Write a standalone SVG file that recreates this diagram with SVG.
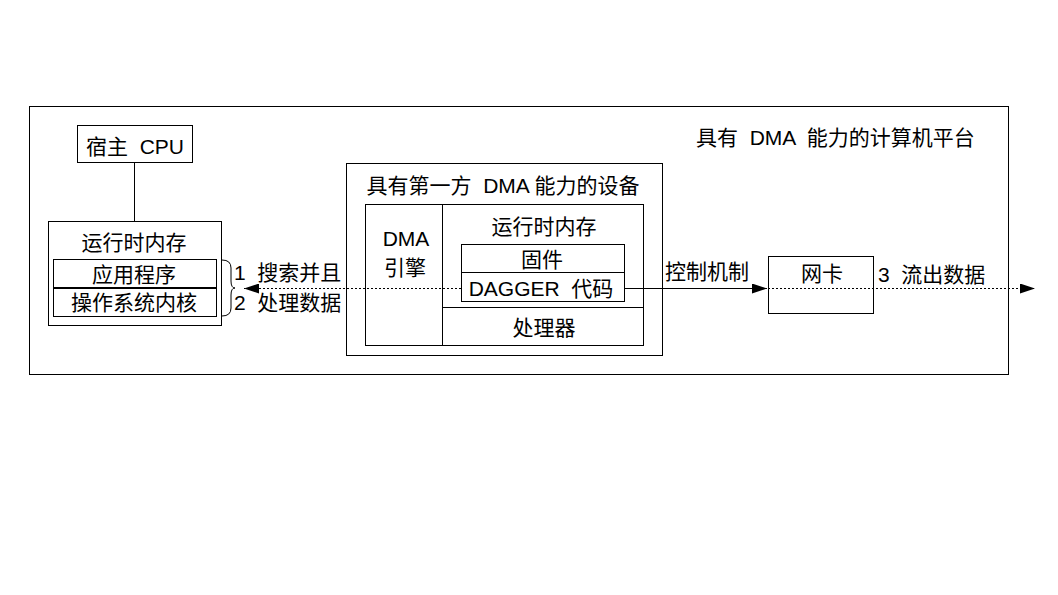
<svg xmlns="http://www.w3.org/2000/svg" width="1058" height="595" viewBox="0 0 1058 595">
<defs>
<style>
.b{fill:#fff;stroke:#000;stroke-width:1}
.n{fill:none;stroke:#000;stroke-width:1}
.d{fill:none;stroke:#000;stroke-width:1;stroke-dasharray:2,2}
text{font-family:"Liberation Sans","Noto Sans CJK SC",sans-serif;font-size:21px;fill:#000}
.m{text-anchor:middle}
</style>
<marker id="ah" viewBox="0 0 15 10" refX="15" refY="5" markerWidth="15" markerHeight="10" markerUnits="userSpaceOnUse" orient="auto">
<path d="M0,0 L15,5 L0,10 Z" fill="#000"/>
</marker>
</defs>
<rect width="1058" height="595" fill="#fff"/>
<g id="platform">
<rect class="b" x="29.5" y="106.5" width="979" height="268"/>
<text x="696" y="145" xml:space="preserve">具有  DMA  能力的计算机平台</text>
</g>
<g id="host-cpu">
<rect class="b" x="77.5" y="125.5" width="115" height="37"/>
<text x="135" y="154" class="m" xml:space="preserve">宿主  CPU</text>
</g>
<g id="host-memory">
<rect class="b" x="48.5" y="221.5" width="173" height="104"/>
<text x="134" y="250" class="m">运行时内存</text>
<rect class="b" x="53.5" y="259.5" width="163" height="28"/>
<text x="134" y="282" class="m">应用程序</text>
<rect class="b" x="53.5" y="288.5" width="163" height="28"/>
<line x1="53" y1="288" x2="217" y2="288" stroke="#000" stroke-width="2"/>
<text x="134" y="310" class="m">操作系统内核</text>
</g>
<g id="device">
<rect class="b" x="346.5" y="163.5" width="316" height="192"/>
<text x="503" y="193" class="m" xml:space="preserve">具有第一方  DMA 能力的设备</text>
<rect class="b" x="365.5" y="204.5" width="278" height="141"/>
<line class="n" x1="442.5" y1="204" x2="442.5" y2="345"/>
<line class="n" x1="442" y1="307.5" x2="643" y2="307.5"/>
</g>
<g id="dma-engine">
<text x="406" y="246" class="m">DMA</text>
<text x="405" y="275" class="m">引擎</text>
</g>
<g id="device-memory">
<text x="544" y="234" class="m">运行时内存</text>
</g>
<g id="firmware">
<rect class="b" x="461.5" y="244.5" width="163" height="28"/>
<text x="542" y="267" class="m">固件</text>
</g>
<g id="dagger-code">
<rect class="b" x="461.5" y="272.5" width="163" height="29"/>
<text x="541" y="296" class="m" xml:space="preserve">DAGGER  代码</text>
</g>
<g id="processor">
<text x="544" y="335" class="m">处理器</text>
</g>
<g id="nic">
<rect class="b" x="768.5" y="256.5" width="105" height="57"/>
<text x="822" y="281" class="m">网卡</text>
</g>
<g id="connectors">
<line class="n" x1="134.5" y1="162" x2="134.5" y2="221"/>
<path class="n" d="M222,260 Q231,260 231,268 L231,281 Q231,288 235,288 Q231,288 231,295 L231,308 Q231,316 222,316"/>
<line class="d" x1="461" y1="288.5" x2="244" y2="288.5" marker-end="url(#ah)"/>
<line class="n" x1="624" y1="288.5" x2="767" y2="288.5" marker-end="url(#ah)"/>
<line class="d" x1="768" y1="288.5" x2="1035" y2="288.5" marker-end="url(#ah)"/>
<text x="234" y="280" xml:space="preserve">1  搜索并且</text>
<text x="234" y="310" xml:space="preserve">2  处理数据</text>
<text x="665" y="279">控制机制</text>
<text x="878" y="282" xml:space="preserve">3  流出数据</text>
</g>
</svg>
